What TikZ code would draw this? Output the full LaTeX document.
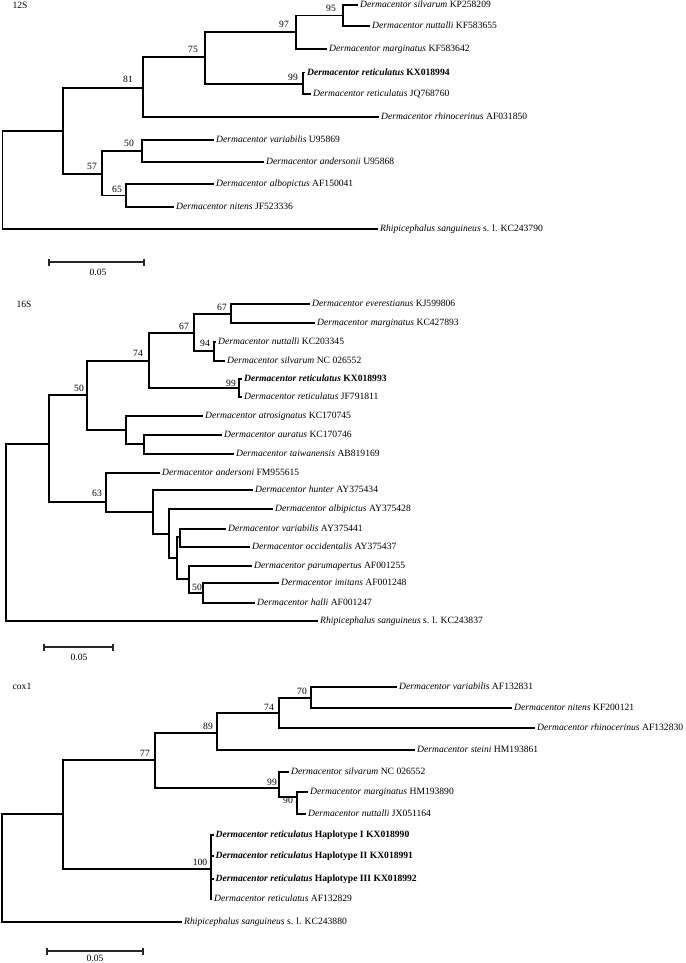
\documentclass[tikz,border=0pt]{standalone}
\usepackage{fontspec}
\setmainfont{Liberation Serif}
\newcommand{\treefont}{\fontsize{9.6}{11}\selectfont}
\begin{document}
\begin{tikzpicture}[x=1pt,y=-1pt,
  br/.style={line width=1.1pt, draw=black},
  sbar/.style={line width=1.4pt, draw=black!85},
  lf/.style={anchor=west, inner xsep=2pt, inner ysep=0pt, text height=7pt, text depth=1.4pt, font=\treefont},
  bs/.style={inner sep=0pt, text height=6.5pt, text depth=0pt, font=\treefont},
  ttl/.style={inner sep=0pt, text height=6.5pt, text depth=0pt, font=\treefont}]
\useasboundingbox[fill=white] (0,0) rectangle (685,963);

%% ================= 12S =================
\node[ttl] (t12) at (20,5) {12S};
\coordinate (a0) at (2.5,180);
\coordinate (aA) at (63,131);
\coordinate (a81) at (143,88);
\coordinate (a75) at (205,57);
\coordinate (a97) at (296,32);
\coordinate (a95) at (343,15.5);
\coordinate (a99) at (303,84);
\coordinate (a57) at (102,174);
\coordinate (a50) at (142,151);
\coordinate (a65) at (126,195.5);
\node[lf] (a1) at (358,5) {\textit{Dermacentor silvarum} KP258209};
\node[lf] (a2) at (370,26) {\textit{Dermacentor nuttalli} KF583655};
\node[lf] (a3) at (327,49) {\textit{Dermacentor marginatus} KF583642};
\node[lf] (a4) at (305,72.5) {\textbf{\textit{Dermacentor reticulatus} KX018994}};
\node[lf] (a5) at (311,94) {\textit{Dermacentor reticulatus} JQ768760};
\node[lf] (a6) at (379,117) {\textit{Dermacentor rhinocerinus} AF031850};
\node[lf] (a7) at (214,140) {\textit{Dermacentor variabilis} U95869};
\node[lf] (a8) at (264,162) {\textit{Dermacentor andersonii} U95868};
\node[lf] (a9) at (214,184) {\textit{Dermacentor albopictus} AF150041};
\node[lf] (a10) at (174,207) {\textit{Dermacentor nitens} JF523336};
\node[lf] (a11) at (378,229) {\textit{Rhipicephalus sanguineus} s. l. KC243790};
\draw[br] (a0) |- (aA);  \draw[br] (a0) |- (a11.west);
\draw[br] (aA) |- (a81); \draw[br] (aA) |- (a57);
\draw[br] (a81) |- (a75); \draw[br] (a81) |- (a6.west);
\draw[br] (a75) |- (a97); \draw[br] (a75) |- (a99);
\draw[br] (a97) |- (a95); \draw[br] (a97) |- (a3.west);
\draw[br] (a95) |- (a1.west); \draw[br] (a95) |- (a2.west);
\draw[br] (a99) |- (a4.west); \draw[br] (a99) |- (a5.west);
\draw[br] (a57) |- (a50); \draw[br] (a57) |- (a65);
\draw[br] (a50) |- (a7.west); \draw[br] (a50) |- (a8.west);
\draw[br] (a65) |- (a9.west); \draw[br] (a65) |- (a10.west);
\node[bs] (la95) at (331,8.5) {95};
\node[bs] (la97) at (284,24) {97};
\node[bs] (la75) at (193,49) {75};
\node[bs] (la99) at (293,77) {99};
\node[bs] (la81) at (128,79) {81};
\node[bs] (la50) at (129,143) {50};
\node[bs] (la57) at (92,166) {57};
\node[bs] (la65) at (117,189) {65};
\coordinate (s1a) at (49,262);
\coordinate (s1b) at (144,262);
\draw[sbar] (s1a) -- (s1b);
\draw[sbar] ([yshift=3.5pt]s1a) -- ([yshift=-3.5pt]s1a);
\draw[sbar] ([yshift=3.5pt]s1b) -- ([yshift=-3.5pt]s1b);
\node[bs] (sl1) at (98,272) {0.05};

%% ================= 16S =================
\node[ttl] (t16) at (24,304) {16S};
\coordinate (b0) at (6,530);
\coordinate (bX) at (49,444);
\coordinate (b50) at (87,395);
\coordinate (b74) at (149,361);
\coordinate (b67b) at (194,333);
\coordinate (b67a) at (231,314);
\coordinate (b94) at (214,351);
\coordinate (b99) at (239,388);
\coordinate (bAt) at (126,430);
\coordinate (bAu) at (144,444);
\coordinate (b63) at (106,502);
\coordinate (bH) at (153,512);
\coordinate (bAl) at (169,534);
\coordinate (bB) at (177,558);
\coordinate (bV) at (180,537);
\coordinate (bP) at (189,579);
\coordinate (bI) at (203,593);
\node[lf] (b1) at (310,304) {\textit{Dermacentor everestianus} KJ599806};
\node[lf] (b2) at (315,323) {\textit{Dermacentor marginatus} KC427893};
\node[lf] (b3) at (216,342) {\textit{Dermacentor nuttalli} KC203345};
\node[lf] (b4) at (225,361) {\textit{Dermacentor silvarum} NC 026552};
\node[lf] (b5) at (242,379) {\textbf{\textit{Dermacentor reticulatus} KX018993}};
\node[lf] (b6) at (242,397) {\textit{Dermacentor reticulatus} JF791811};
\node[lf] (b7) at (203,416) {\textit{Dermacentor atrosignatus} KC170745};
\node[lf] (b8) at (222,435) {\textit{Dermacentor auratus} KC170746};
\node[lf] (b9) at (234,454) {\textit{Dermacentor taiwanensis} AB819169};
\node[lf] (b10) at (160,473) {\textit{Dermacentor andersoni} FM955615};
\node[lf] (b11) at (253,490) {\textit{Dermacentor hunter} AY375434};
\node[lf] (b12) at (273,509) {\textit{Dermacentor albipictus} AY375428};
\node[lf] (b13) at (226,529) {\textit{Dermacentor variabilis} AY375441};
\node[lf] (b14) at (250,547) {\textit{Dermacentor occidentalis} AY375437};
\node[lf] (b15) at (252,566) {\textit{Dermacentor parumapertus} AF001255};
\node[lf] (b16) at (279,583) {\textit{Dermacentor imitans} AF001248};
\node[lf] (b17) at (255,603) {\textit{Dermacentor halli} AF001247};
\node[lf] (b18) at (318,621) {\textit{Rhipicephalus sanguineus} s. l. KC243837};
\draw[br] (b0) |- (bX); \draw[br] (b0) |- (b18.west);
\draw[br] (bX) |- (b50); \draw[br] (bX) |- (b63);
\draw[br] (b50) |- (b74); \draw[br] (b50) |- (bAt);
\draw[br] (b74) |- (b67b); \draw[br] (b74) |- (b99);
\draw[br] (b67b) |- (b67a); \draw[br] (b67b) |- (b94);
\draw[br] (b67a) |- (b1.west); \draw[br] (b67a) |- (b2.west);
\draw[br] (b94) |- (b3.west); \draw[br] (b94) |- (b4.west);
\draw[br] (b99) |- (b5.west); \draw[br] (b99) |- (b6.west);
\draw[br] (bAt) |- (b7.west); \draw[br] (bAt) |- (bAu);
\draw[br] (bAu) |- (b8.west); \draw[br] (bAu) |- (b9.west);
\draw[br] (b63) |- (b10.west); \draw[br] (b63) |- (bH);
\draw[br] (bH) |- (b11.west); \draw[br] (bH) |- (bAl);
\draw[br] (bAl) |- (b12.west); \draw[br] (bAl) |- (bB);
\draw[br] (bB) |- (bV); \draw[br] (bB) |- (bP);
\draw[br] (bV) |- (b13.west); \draw[br] (bV) |- (b14.west);
\draw[br] (bP) |- (b15.west); \draw[br] (bP) |- (bI);
\draw[br] (bI) |- (b16.west); \draw[br] (bI) |- (b17.west);
\node[bs] (lb67a) at (222,307) {67};
\node[bs] (lb67b) at (184,326) {67};
\node[bs] (lb94) at (205,343) {94};
\node[bs] (lb74) at (138,353) {74};
\node[bs] (lb99) at (231,383) {99};
\node[bs] (lb50) at (79,388) {50};
\node[bs] (lb63) at (97,493) {63};
\node[bs] (lb50b) at (197,587) {50};
\coordinate (s2a) at (44,647);
\coordinate (s2b) at (113,647);
\draw[sbar] (s2a) -- (s2b);
\draw[sbar] ([yshift=3.5pt]s2a) -- ([yshift=-3.5pt]s2a);
\draw[sbar] ([yshift=3.5pt]s2b) -- ([yshift=-3.5pt]s2b);
\node[bs] (sl2) at (79,657) {0.05};

%% ================= cox1 =================
\node[ttl] (tc) at (22,686) {cox1};
\coordinate (c0) at (2,868);
\coordinate (cA) at (63,814);
\coordinate (c77) at (155,760);
\coordinate (c89) at (217,733);
\coordinate (c74) at (279,713);
\coordinate (c70) at (311,698);
\coordinate (c99) at (279,788);
\coordinate (c90) at (297,797);
\coordinate (c100) at (211,869);
\node[lf] (c1) at (397,687) {\textit{Dermacentor variabilis} AF132831};
\node[lf] (c2) at (512,708) {\textit{Dermacentor nitens} KF200121};
\node[lf] (c3) at (535,728) {\textit{Dermacentor rhinocerinus} AF132830};
\node[lf] (c4) at (415,750) {\textit{Dermacentor steini} HM193861};
\node[lf] (c5) at (289,772) {\textit{Dermacentor silvarum} NC 026552};
\node[lf] (c6) at (308,792) {\textit{Dermacentor marginatus} HM193890};
\node[lf] (c7) at (306,814) {\textit{Dermacentor nuttalli} JX051164};
\node[lf] (c8) at (213.5,835) {\textbf{\textit{Dermacentor reticulatus} Haplotype I KX018990}};
\node[lf] (c9) at (213.5,856) {\textbf{\textit{Dermacentor reticulatus} Haplotype II KX018991}};
\node[lf] (c10) at (213.5,879) {\textbf{\textit{Dermacentor reticulatus} Haplotype III KX018992}};
\node[lf] (c11) at (212,899) {\textit{Dermacentor reticulatus} AF132829};
\node[lf] (c12) at (182,922) {\textit{Rhipicephalus sanguineus} s. l. KC243880};
\draw[br] (c0) |- (cA); \draw[br] (c0) |- (c12.west);
\draw[br] (cA) |- (c77); \draw[br] (cA) |- (c100);
\draw[br] (c77) |- (c89); \draw[br] (c77) |- (c99);
\draw[br] (c89) |- (c74); \draw[br] (c89) |- (c4.west);
\draw[br] (c74) |- (c70); \draw[br] (c74) |- (c3.west);
\draw[br] (c70) |- (c1.west); \draw[br] (c70) |- (c2.west);
\draw[br] (c99) |- (c5.west); \draw[br] (c99) |- (c90);
\draw[br] (c90) |- (c6.west); \draw[br] (c90) |- (c7.west);
\draw[br] (c100) |- (c8.west); \draw[br] (c100) |- (c9.west);
\draw[br] (c100) |- (c10.west); \draw[br] (c100) |- (c11.west);
\node[bs] (lc70) at (302,691) {70};
\node[bs] (lc74) at (269,707) {74};
\node[bs] (lc89) at (208,726) {89};
\node[bs] (lc77) at (145,753) {77};
\node[bs] (lc99) at (272,782) {99};
\node[bs] (lc90) at (288,800.5) {90};
\node[bs] (lc100) at (200,862) {100};
\coordinate (s3a) at (47,951);
\coordinate (s3b) at (143,951);
\draw[sbar] (s3a) -- (s3b);
\draw[sbar] ([yshift=3.5pt]s3a) -- ([yshift=-3.5pt]s3a);
\draw[sbar] ([yshift=3.5pt]s3b) -- ([yshift=-3.5pt]s3b);
\node[bs] (sl3) at (95,958.5) {0.05};
\end{tikzpicture}
\end{document}
